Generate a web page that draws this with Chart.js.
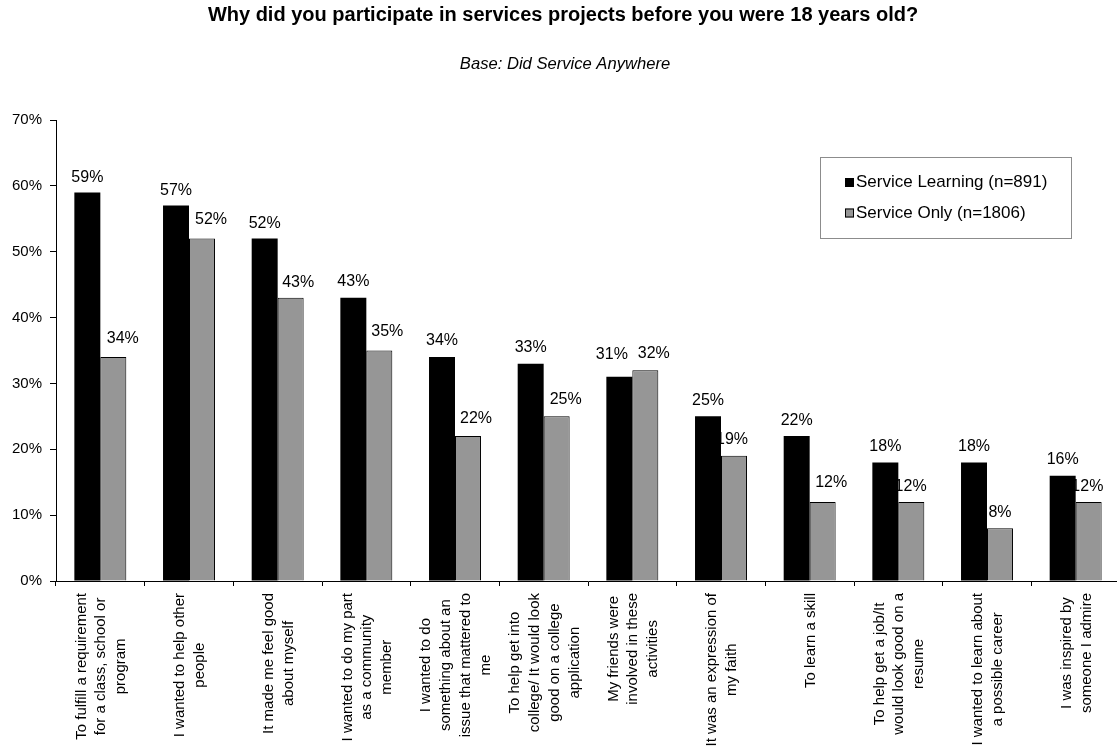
<!DOCTYPE html>
<html>
<head>
<meta charset="utf-8">
<script src="https://cdn.jsdelivr.net/npm/chart.js@4.4.1/dist/chart.umd.min.js"></script>
<style>
  html, body { margin: 0; padding: 0; background: #fff; overflow: hidden; }
  #wrap { width: 1122px; height: 749px; }
</style>
</head>
<body>
<div id="wrap"><canvas id="c" width="1122" height="749"></canvas></div>
<script>
// Survey answers, one entry per reason (each entry is the wrapped label lines)
const categories = [
  ["To fulfill a requirement", "for a class, school or", "program"],
  ["I wanted to help other", "people"],
  ["It made me feel good", "about myself"],
  ["I wanted to do my part", "as a community", "member"],
  ["I wanted to do", "something about an", "issue that mattered to", "me"],
  ["To help get into", "college/ It would look", "good on a college", "application"],
  ["My friends were", "involved in these", "activities"],
  ["It was an expression of", "my faith"],
  ["To learn a skill"],
  ["To help get a job/It", "would look good on a", "resume"],
  ["I wanted to learn about", "a possible career"],
  ["I was inspired by", "someone I admire"]
];
const seriesNames = ["Service Learning (n=891)", "Service Only (n=1806)"];
const serviceLearning = [59, 57, 52, 43, 34, 33, 31, 25, 22, 18, 18, 16];
const serviceOnly     = [34, 52, 43, 35, 22, 25, 32, 19, 12, 12, 8, 12];
const yTicks = [0, 10, 20, 30, 40, 50, 60, 70];

const chartTitle = "Why did you participate in services projects before you were 18 years old?";
const chartSubtitle = "Base: Did Service Anywhere";

// Hand-placed value label nudges (pixels): horizontal shift and lift above the bar top
const labelShiftX = [
  [0, 0, 0, 0, 0, 0, -7.5, 0, 0, 0, 0, 0],
  [9.5, 9, 7.5, 8, 8, 9, 8.5, -2, 8.5, -0.7, 0, -1.3]
];
const labelLift = [
  [10.5, 10.7, 10.3, 11.6, 12, 11.7, 17.4, 11, 11.3, 11.3, 11.3, 11.3],
  [14.3, 15, 11.3, 14.3, 12.7, 12.7, 12.3, 11.7, 14.7, 11.3, 11, 11.3]
];

const FONT = "'Liberation Sans', Arial, sans-serif";

// Value labels are painted before the bars so a neighbouring bar can cover them
const valueLabels = {
  id: 'valueLabels',
  beforeDatasetsDraw(chart) {
    const ctx = chart.ctx;
    ctx.save();
    ctx.font = '16px ' + FONT;
    ctx.fillStyle = '#000';
    ctx.textAlign = 'center';
    ctx.textBaseline = 'alphabetic';
    chart.data.datasets.forEach((ds, d) => {
      const meta = chart.getDatasetMeta(d);
      meta.data.forEach((el, i) => {
        ctx.fillText(ds.data[i] + '%', el.x + labelShiftX[d][i], el.y - labelLift[d][i]);
      });
    });
    ctx.restore();
  }
};

// Rotated, centre-aligned multi-line category labels under the axis
const categoryLabels = {
  id: 'categoryLabels',
  afterDraw(chart) {
    const ctx = chart.ctx;
    const xs = chart.scales.x;
    const top = chart.chartArea.bottom + 12;
    const lh = 19.8;
    ctx.save();
    ctx.font = '15px ' + FONT;
    ctx.fillStyle = '#000';
    ctx.textAlign = 'center';
    ctx.textBaseline = 'middle';
    chart.data.labels.forEach((lines, i) => {
      const x = xs.getPixelForValue(i);
      const w = Math.max(...lines.map(l => ctx.measureText(l).width));
      ctx.save();
      ctx.translate(x + 1, top + w / 2);
      ctx.rotate(-Math.PI / 2);
      lines.forEach((l, j) => {
        ctx.fillText(l, 0, (j - (lines.length - 1) / 2) * lh);
      });
      ctx.restore();
    });
    ctx.restore();
  }
};

// Heading and base note
const headings = {
  id: 'headings',
  afterDraw(chart) {
    const ctx = chart.ctx;
    ctx.save();
    ctx.fillStyle = '#000';
    ctx.textAlign = 'center';
    ctx.textBaseline = 'alphabetic';
    ctx.font = 'bold 20px ' + FONT;
    ctx.fillText(chartTitle, 563, 21);
    ctx.font = 'italic 16.6px ' + FONT;
    ctx.fillText(chartSubtitle, 565, 69);
    ctx.restore();
  }
};

// Framed legend inside the plot
const boxLegend = {
  id: 'boxLegend',
  afterDraw(chart) {
    const ctx = chart.ctx;
    ctx.save();
    ctx.strokeStyle = '#8c8c8c';
    ctx.lineWidth = 1;
    ctx.fillStyle = '#fff';
    ctx.fillRect(820.5, 157.5, 251, 81);
    ctx.strokeRect(820.5, 157.5, 251, 81);
    ctx.font = '17px ' + FONT;
    ctx.textAlign = 'left';
    ctx.textBaseline = 'alphabetic';
    const rows = [187, 217.5];
    chart.data.datasets.forEach((ds, d) => {
      const y = rows[d];
      ctx.fillStyle = ds.backgroundColor;
      ctx.fillRect(845, y - 9, 9, 9);
      if (ds.borderWidth) {
        ctx.strokeStyle = ds.borderColor;
        ctx.strokeRect(845.5, y - 8.5, 8, 8);
      }
      ctx.fillStyle = '#000';
      ctx.fillText(ds.label, 856, y);
    });
    ctx.restore();
  }
};

new Chart(document.getElementById('c'), {
  type: 'bar',
  data: {
    labels: categories,
    datasets: [
      {
        label: seriesNames[0],
        data: serviceLearning,
        backgroundColor: '#000000',
        borderColor: '#000000',
        borderWidth: 0
      },
      {
        label: seriesNames[1],
        data: serviceOnly,
        backgroundColor: '#969696',
        borderColor: '#000000',
        borderWidth: 1
      }
    ]
  },
  options: {
    responsive: false,
    animation: false,
    devicePixelRatio: 1,
    categoryPercentage: 0.586,
    barPercentage: 1,
    layout: { padding: { left: 0, right: 2, top: 120, bottom: 163 } },
    plugins: {
      legend: { display: false },
      title: { display: false },
      tooltip: { enabled: false }
    },
    scales: {
      x: {
        offset: true,
        ticks: { display: false },
        grid: {
          display: true,
          offset: true,
          drawOnChartArea: false,
          drawTicks: true,
          tickLength: 5,
          color: '#000'
        },
        border: { display: true, color: '#000', width: 1 }
      },
      y: {
        min: 0,
        max: 70,
        afterBuildTicks(scale) { scale.ticks = yTicks.map(v => ({ value: v })); },
        afterFit(scale) { scale.width = 56; },
        ticks: {
          padding: 8,
          color: '#000',
          font: { family: FONT, size: 15 },
          callback: v => v + '%'
        },
        grid: {
          display: true,
          drawOnChartArea: false,
          drawTicks: true,
          tickLength: 6,
          color: '#000'
        },
        border: { display: true, color: '#000', width: 1 }
      }
    }
  },
  plugins: [valueLabels, categoryLabels, headings, boxLegend]
});
</script>
</body>
</html>
